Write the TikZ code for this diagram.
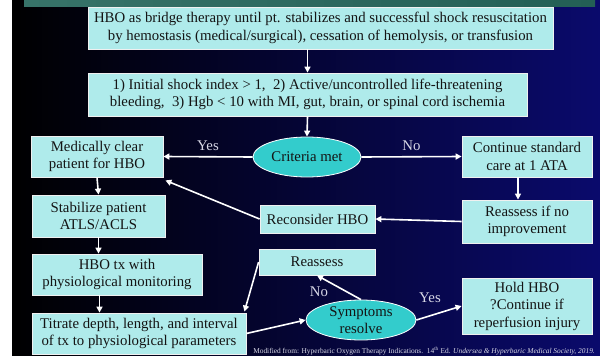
\documentclass[tikz,border=0pt]{standalone}
\usepackage{fontspec}
\setmainfont{Liberation Serif}
\usetikzlibrary{arrows.meta,shapes.geometric,calc}
\definecolor{boxfill}{RGB}{175,235,235}
\definecolor{ellfill}{RGB}{51,204,204}
\definecolor{txt}{RGB}{20,20,20}
\definecolor{lbl}{RGB}{215,215,230}
\definecolor{bgright}{RGB}{10,10,108}
\definecolor{bgmid}{RGB}{2,2,70}
\definecolor{barL}{RGB}{55,115,105}
\definecolor{barM}{RGB}{140,185,175}
\definecolor{barR}{RGB}{35,95,85}
\begin{document}
\begin{tikzpicture}[x=1pt,y=-1pt,
  box/.style={rectangle, draw=white!88!gray, line width=0.8pt, fill=boxfill, text=txt,
    align=center, inner sep=0pt, font=\fontsize{14.8}{17.5}\selectfont},
  ell/.style={ellipse, draw=white, line width=0.8pt, fill=ellfill, text=txt,
    align=center, inner sep=0pt, font=\fontsize{14.8}{17.5}\selectfont},
  arr/.style={draw=white, line width=1.6pt, -{Triangle[length=6pt,width=6pt]}},
  lab/.style={text=lbl, font=\fontsize{14.8}{17}\selectfont, inner sep=0pt}]
\useasboundingbox (0,0) rectangle (600,356);
% background
\fill[white] (0,0) rectangle (600,356);
\shade[left color=black, middle color=bgmid, right color=bgright] (12,0) rectangle (600,356);
\shade[left color=barL, middle color=barM, right color=barR] (24,0) rectangle (595,6);
% nodes
\node[box, minimum width=465pt, minimum height=42pt] (top) at (320.5,28)
  {HBO as bridge therapy until pt. stabilizes and successful shock resuscitation\\
   by hemostasis (medical/surgical), cessation of hemolysis, or transfusion};
\node[box, minimum width=439pt, minimum height=43pt] (crit) at (307.5,94.5)
  {1) Initial shock index > 1,\ \ 2) Active/uncontrolled life-threatening\\
   bleeding,\ \ 3) Hgb < 10 with MI, gut, brain, or spinal cord ischemia};
\node[ell, minimum width=108pt, minimum height=40pt] (met) at (307,157) {Criteria met};
\node[box, minimum width=132pt, minimum height=41pt] (med) at (97,156.5)
  {Medically clear\\patient for HBO};
\node[box, minimum width=130pt, minimum height=41pt] (cont) at (527,156.5)
  {Continue standard\\care at 1 ATA};
\node[box, minimum width=130pt, minimum height=43pt] (reasno) at (527,221.5)
  {Reassess if no\\improvement};
\node[box, minimum width=115pt, minimum height=28pt] (recon) at (317.5,219) {Reconsider HBO};
\node[box, minimum width=133pt, minimum height=42pt] (stab) at (98.5,216)
  {Stabilize patient\\ATLS/ACLS};
\node[box, minimum width=170pt, minimum height=41pt] (hbo) at (117,274.5)
  {HBO tx with\\physiological monitoring};
\node[box, minimum width=214pt, minimum height=41pt] (tit) at (139,333.5)
  {Titrate depth, length, and interval\\of tx to physiological parameters};
\node[box, minimum width=116pt, minimum height=26pt] (reas) at (317,262) {Reassess};
\node[ell, minimum width=110pt, minimum height=40pt] (sym) at (361,320) {Symptoms\\resolve};
\node[box, minimum width=130pt, minimum height=56pt] (hold) at (527,306)
  {Hold HBO\\?Continue if\\reperfusion injury};
% connectors
\draw[arr] (top.south -| crit.north) -- (crit.north);
\draw[arr] (crit.south) -- (met.north);
\draw[arr] (met.west) -- (med.east) node[lab, midway, above=5pt] {Yes};
\draw[arr] (met.east) -- (cont.west) node[lab, midway, above=5pt] {No};
\draw[arr] ([xshift=-9pt]cont.south) -- ([xshift=-9pt]reasno.north);
\draw[arr] (reasno.west) -- (recon.east);
\draw[arr] (recon.west) -- ($(med.south east)+(2,3)$);
\draw[arr] (med.south) -- (stab.north);
\draw[arr] (stab.south) -- (stab.south |- hbo.north);
\draw[arr] ($(stab.south |- hbo.south)+(1,0)$) -- ($(stab.south |- tit.north)+(1,0)$);
\draw[arr] (reas.west) -- ($(tit.north east)+(-2,-1)$);
\draw[arr] (tit.east) -- (sym.west);
\draw[arr] (sym.north) -- (reas.south);
\draw[arr] (sym.east) -- (hold.west);
\node[lab] (nolab) at (319,292) {No};
\node[lab] (yeslab) at (430,298) {Yes};
% footer
\node[anchor=east, inner sep=0pt, text=lbl, font=\fontsize{7.4}{8}\selectfont] (foot) at (595,351)
  {Modified from: Hyperbaric Oxygen Therapy Indications.\ \ 14\textsuperscript{th} Ed. \textit{Undersea \& Hyperbaric Medical Society, 2019.}};
\end{tikzpicture}
\end{document}
